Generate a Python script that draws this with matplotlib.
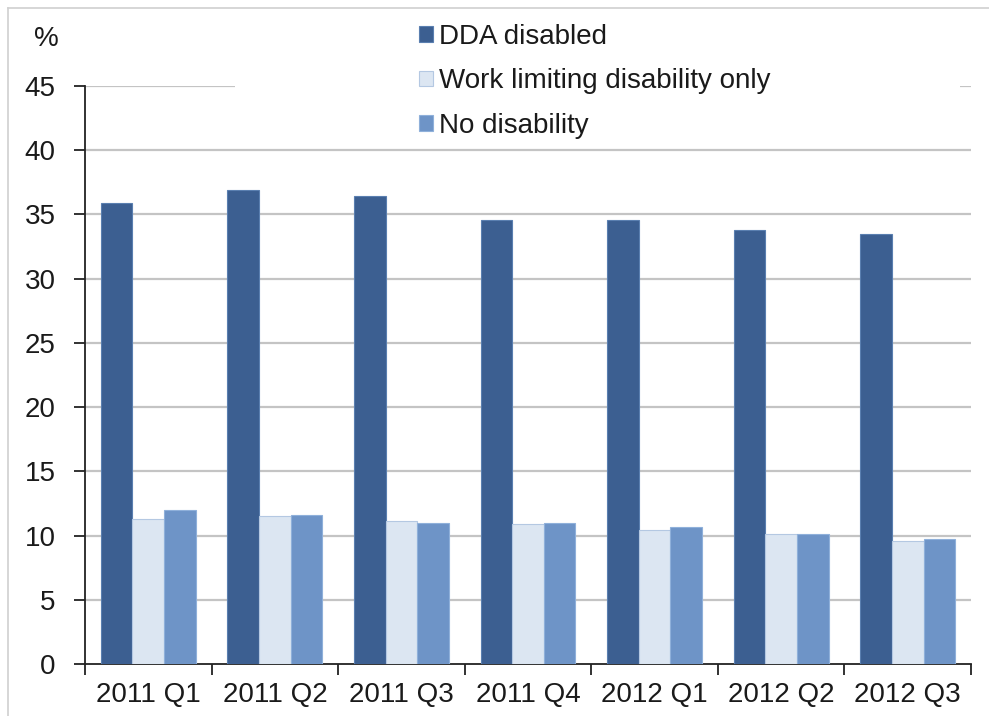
import numpy as np
import matplotlib
matplotlib.use("Agg")
import matplotlib.pyplot as plt
from matplotlib.patches import Rectangle
from matplotlib.lines import Line2D

quarters = ["2011 Q1", "2011 Q2", "2011 Q3", "2011 Q4", "2012 Q1", "2012 Q2", "2012 Q3"]
dda_disabled = [35.9, 36.9, 36.4, 34.6, 34.6, 33.8, 33.5]
work_limiting = [11.3, 11.5, 11.1, 10.9, 10.4, 10.1, 9.6]
no_disability = [12.0, 11.6, 11.0, 11.0, 10.7, 10.1, 9.7]
series_names = ["DDA disabled", "Work limiting disability only", "No disability"]

plt.rcParams['font.family'] = ['Liberation Sans', 'DejaVu Sans']

W, H = 989, 716
FS = 20
fig = plt.figure(figsize=(W / 100, H / 100), dpi=100)
ax = fig.add_axes([85 / W, (H - 664) / H, 886 / W, 578 / H])

x = np.arange(len(quarters))
bw = 0.25
ax.bar(x - bw, dda_disabled, bw, color='#3c5f91', edgecolor='#5a7fb0', linewidth=0.8, zorder=3, label=series_names[0])
ax.bar(x, work_limiting, bw, color='#dce6f2', edgecolor='#b4c8e2', linewidth=0.8, zorder=3, label=series_names[1])
ax.bar(x + bw, no_disability, bw, color='#6e94c7', edgecolor='#8fb0da', linewidth=0.8, zorder=3, label=series_names[2])

ax.set_xlim(-0.5, len(quarters) - 0.5)
ax.set_ylim(0, 45)
ax.set_yticks(np.arange(0, 46, 5))
ax.yaxis.grid(True, color='#c4c4c4', linewidth=1.6, zorder=0)
ax.set_axisbelow(True)
# no gridline at 0
ax.get_ygridlines()[0].set_visible(False)

# category ticks at boundaries, labels at centres
ax.set_xticks(np.arange(-0.5, len(quarters), 1.0))
ax.set_xticklabels([])
ax.set_xticks(x, minor=True)
ax.set_xticklabels(quarters, minor=True)
ax.tick_params(axis='x', which='major', length=8, width=1.3, direction='out', color='#222222')
ax.tick_params(axis='x', which='minor', length=0, pad=13, labelsize=FS, labelcolor='#1a1a1a')
ax.tick_params(axis='y', length=8, width=1.3, direction='out', color='#222222', pad=13, labelsize=FS, labelcolor='#1a1a1a')

for s in ['top', 'right']:
    ax.spines[s].set_visible(False)
for s in ['left', 'bottom']:
    ax.spines[s].set_color('#222222')
    ax.spines[s].set_linewidth(1.3)

# white box behind the legend hides the top gridline
ax.add_patch(Rectangle((150 / 886, (664 - 142) / 578), (960 - 235) / 886, 0.12,
                       transform=ax.transAxes, facecolor='white', edgecolor='none',
                       zorder=2, clip_on=False))

leg = ax.legend(loc='upper left', bbox_to_anchor=(419 / W, 1 - 24 / H), bbox_transform=fig.transFigure,
                frameon=False, fontsize=FS, handlelength=0.5, handleheight=0.5,
                handletextpad=0.22, labelspacing=0.66, borderaxespad=0, borderpad=0)
for t in leg.get_texts():
    t.set_color('#1a1a1a')

fig.text(46 / W, 1 - 39 / H, '%', fontsize=FS, color='#1a1a1a', ha='center', va='center')

# outer frame (left and top edges)
fig.add_artist(Line2D([8 / W, 8 / W], [0, 1 - 8 / H], transform=fig.transFigure, color='#d0d0d0', linewidth=1.2))
fig.add_artist(Line2D([8 / W, 1], [1 - 8 / H, 1 - 8 / H], transform=fig.transFigure, color='#d0d0d0', linewidth=1.2))

fig.savefig('out.png', dpi=100)
